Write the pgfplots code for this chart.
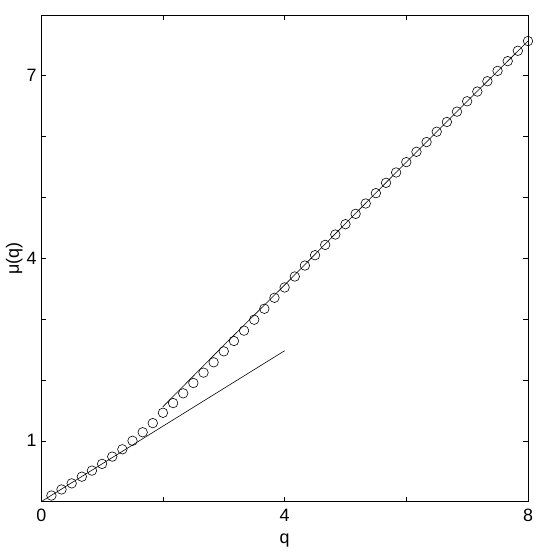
\documentclass[border=0pt]{standalone}
\usepackage{pgfplots}
\pgfplotsset{compat=1.18}
\usepackage{fontspec}
\setmainfont{Liberation Sans}
\begin{document}
\fontsize{18bp}{21bp}\selectfont
\begin{tikzpicture}
\begin{axis}[
  scale only axis,
  width=490bp,height=490bp,
  xmin=0,xmax=8,ymin=0,ymax=8,
  xtick={0,2,4,6,8},xticklabels={0,,4,,8},
  ytick={0,1,2,3,4,5,6,7,8},yticklabels={,1,,,4,,,7,},
  tick align=inside,
  major tick length=5bp,
  axis line style={line width=0.7pt},
  every tick/.style={black,line width=0.5pt},
  tick label style={font=\fontsize{18bp}{21bp}\selectfont},
  label style={font=\fontsize{18bp}{21bp}\selectfont},
  /pgf/number format/assume math mode=true,
  xticklabel style={yshift=-1bp},
  yticklabel style={xshift=1.5bp},
  xlabel={q},ylabel={μ(q)},
  xlabel style={at={(axis description cs:0.5,-0.0857)},anchor=base},
  ylabel style={at={(axis description cs:-0.0459,0.5)},anchor=base},
]
  % circles
  \addplot[only marks,mark=o,mark size=4.8bp,mark options={line width=0.6pt,black}] coordinates {
    (0.167,0.10) (0.333,0.20) (0.5,0.30) (0.667,0.41) (0.833,0.51) (1.0,0.62)
    (1.167,0.74) (1.333,0.86) (1.5,1.00) (1.667,1.14) (1.833,1.29) (2.0,1.46)
    (2.167,1.62) (2.333,1.78) (2.5,1.95) (2.667,2.12) (2.833,2.29) (3.0,2.47)
    (3.167,2.64) (3.333,2.81) (3.5,2.99) (3.667,3.17) (3.833,3.35) (4.0,3.52)
    (4.167,3.70) (4.333,3.88) (4.5,4.05) (4.667,4.22) (4.833,4.39) (5.0,4.56)
    (5.167,4.73) (5.333,4.90) (5.5,5.07) (5.667,5.24) (5.833,5.41) (6.0,5.58)
    (6.167,5.75) (6.333,5.91) (6.5,6.08) (6.667,6.24) (6.833,6.41) (7.0,6.58)
    (7.167,6.74) (7.333,6.91) (7.5,7.08) (7.667,7.24) (7.833,7.41) (8.0,7.57)};
  % small-q line
  \addplot[black,line width=0.6pt] coordinates {(0,0) (1,0.62) (2,1.24) (3,1.86) (4,2.48)};
  % large-q line
  \addplot[black,line width=0.6pt] coordinates {(2,1.56) (3,2.57) (4,3.56) (5,4.57) (6,5.58) (7,6.58) (8,7.57)};
\end{axis}
\path ([shift={(-41.5bp,-48bp)}]current axis.south west) rectangle ([shift={(13bp,15bp)}]current axis.north east);
\end{tikzpicture}
\end{document}
